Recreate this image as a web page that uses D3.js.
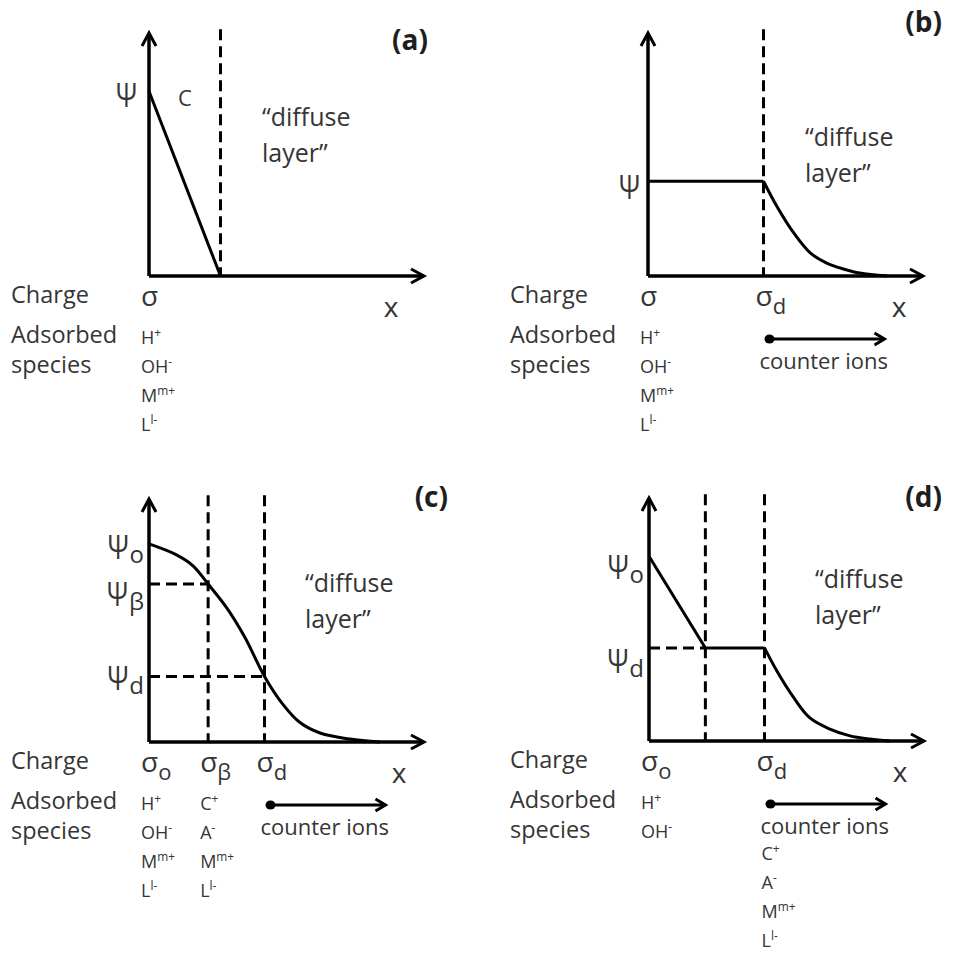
<!DOCTYPE html>
<html>
<head>
<meta charset="utf-8">
<script src="https://cdn.jsdelivr.net/npm/d3@7"></script>
<style>
  body { margin: 0; background: #fff; }
  text { font-family: "Open Sans", "Noto Sans", sans-serif; fill: #353535; }
</style>
</head>
<body>
<svg id="fig" width="954" height="954"></svg>
<script>
// Distance from the surface (x) and potential (psi) share an arbitrary 0–10 scale.
const panelNames = ["(a)", "(b)", "(c)", "(d)"];

// Positions of the charge planes along x
const planesA = [2.6];
const planesB = [4.2];
const planesC = [2.15, 4.2];
const planesD = [2.05, 4.2];

// Potential profiles: straight segments and smooth (diffuse) decays
const linearA = [[0, 7.6], [2.6, 0]];
const linearB = [[0, 3.9], [4.2, 3.9]];
const decayB  = [[4.2, 3.9], [4.7, 2.84], [5.3, 1.77], [5.9, 0.95], [6.5, 0.53], [7.1, 0.29], [7.7, 0.12], [8.7, 0]];
const smoothC = [[0, 8.15], [1.0, 7.7], [1.6, 7.25], [2.15, 6.5], [2.84, 5.5], [3.49, 4.3], [4.2, 2.7],
                 [4.87, 1.55], [5.49, 0.8], [6.22, 0.37], [7.31, 0.12], [8.4, 0]];
const linearD = [[0, 7.6], [2.05, 3.83], [4.2, 3.83]];
const decayD  = [[4.2, 3.83], [4.65, 2.88], [5.27, 1.77], [5.85, 0.95], [6.58, 0.49], [7.31, 0.21], [8.04, 0.08], [8.76, 0]];

// Potential labels on the vertical axis
const potentialA = [{ sub: "", v: 7.6 }];
const potentialB = [{ sub: "", v: 3.9 }];
const potentialC = [{ sub: "o", v: 8.15 }, { sub: "β", v: 6.5 }, { sub: "d", v: 2.7 }];
const potentialD = [{ sub: "o", v: 7.6 }, { sub: "d", v: 3.83 }];

// Dashed guides: [potential level, plane it runs to]
const guidesC = [[6.5, 2.15], [2.7, 4.2]];
const guidesD = [[3.83, 2.05]];

// Charge symbols under the x axis
const chargeA = [{ sub: "", at: 0 }];
const chargeB = [{ sub: "", at: 0 }, { sub: "d", at: 4.2 }];
const chargeC = [{ sub: "o", at: 0 }, { sub: "β", at: 2.15 }, { sub: "d", at: 4.2 }];
const chargeD = [{ sub: "o", at: 0 }, { sub: "d", at: 4.2 }];

// Adsorbed species: [symbol, superscript charge]
const surfaceIons = [["H", "+"], ["OH", "-"], ["M", "m+"], ["L", "l-"]];
const betaIons    = [["C", "+"], ["A", "-"], ["M", "m+"], ["L", "l-"]];
const innerIonsD  = [["H", "+"], ["OH", "-"]];

const rowLabels = ["Charge", "Adsorbed", "species"];

// Page placement of each panel (pixels); psiDy = baseline offset of each potential label
const layout = [
  { ox: 149, oy: 276, label: [428, 50],  psiRight: -12, psiDy: [16], xLab: 242, diffuse: [262, 126], rowX: 11 },
  { ox: 648, oy: 276, label: [942, 32],  psiRight: -8,  psiDy: [18], xLab: 251, diffuse: [805, 146], rowX: 510 },
  { ox: 149, oy: 742, label: [448, 507], psiRight: -5,  psiDy: [15, 22, 14], xLab: 250, diffuse: [305, 592], rowX: 11 },
  { ox: 649, oy: 741, label: [942, 507], psiRight: -5,  psiDy: [23, 25], xLab: 251, diffuse: [815, 588], rowX: 510 }
];

const panels = [
  { name: panelNames[0], planes: planesA, lines: [linearA], curves: [], potentials: potentialA, guides: [],
    charges: chargeA, columns: [{ at: 0, ions: surfaceIons }], counter: null, below: null, capLabel: true },
  { name: panelNames[1], planes: planesB, lines: [linearB], curves: [decayB], potentials: potentialB, guides: [],
    charges: chargeB, columns: [{ at: 0, ions: surfaceIons }], counter: 4.2, below: null },
  { name: panelNames[2], planes: planesC, lines: [], curves: [smoothC], potentials: potentialC, guides: guidesC,
    charges: chargeC, columns: [{ at: 0, ions: surfaceIons }, { at: 2.15, ions: betaIons }], counter: 4.2, below: null },
  { name: panelNames[3], planes: planesD, lines: [linearD], curves: [decayD], potentials: potentialD, guides: guidesD,
    charges: chargeD, columns: [{ at: 0, ions: innerIonsD }], counter: 4.2, below: betaIons }
];

const svg = d3.select("#fig");
const AXIS_W = 275, AXIS_H = 243;

function ionText(g, xPos, yPos, ion, size) {
  const t = g.append("text").attr("x", xPos).attr("y", yPos).attr("font-size", size);
  t.append("tspan").text(ion[0]);
  t.append("tspan").attr("font-size", size * 0.66).attr("dy", -size * 0.4).text(ion[1]);
}

function drawPanel(p) {
  const L = p.lay;
  const x = d3.scaleLinear().domain([0, 10]).range([L.ox, L.ox + AXIS_W]);
  const y = d3.scaleLinear().domain([0, 10]).range([L.oy, L.oy - AXIS_H]);
  const g = svg.append("g");

  // dashed charge planes
  g.selectAll("line.plane").data(p.planes).join("line")
    .attr("class", "plane")
    .attr("x1", d => x(d)).attr("x2", d => x(d))
    .attr("y1", y(10.15)).attr("y2", y(0))
    .attr("stroke", "#000").attr("stroke-width", 3).attr("stroke-dasharray", "11,6");

  // dashed potential guides
  g.selectAll("line.guide").data(p.guides).join("line")
    .attr("class", "guide")
    .attr("x1", x(0)).attr("x2", d => x(d[1]))
    .attr("y1", d => y(d[0])).attr("y2", d => y(d[0]))
    .attr("stroke", "#000").attr("stroke-width", 3).attr("stroke-dasharray", "11,6");

  // axes with arrowheads
  g.append("line").attr("x1", x(0)).attr("x2", x(10)).attr("y1", y(0)).attr("y2", y(0))
    .attr("stroke", "#000").attr("stroke-width", 3.5);
  g.append("line").attr("x1", x(0)).attr("x2", x(0)).attr("y1", y(0)).attr("y2", y(10))
    .attr("stroke", "#000").attr("stroke-width", 3.5);
  g.append("path")
    .attr("d", `M${x(10) - 13},${y(0) - 7}L${x(10)},${y(0)}L${x(10) - 13},${y(0) + 7}`)
    .attr("fill", "none").attr("stroke", "#000").attr("stroke-width", 3);
  g.append("path")
    .attr("d", `M${x(0) - 7},${y(10) + 13}L${x(0)},${y(10)}L${x(0) + 7},${y(10) + 13}`)
    .attr("fill", "none").attr("stroke", "#000").attr("stroke-width", 3);

  // potential profile
  const straight = d3.line().x(d => x(d[0])).y(d => y(d[1]));
  const smooth = d3.line().x(d => x(d[0])).y(d => y(d[1])).curve(d3.curveCatmullRom.alpha(0.5));
  p.lines.forEach(seg => g.append("path").attr("d", straight(seg))
    .attr("fill", "none").attr("stroke", "#000").attr("stroke-width", 3).attr("stroke-linejoin", "round"));
  p.curves.forEach(seg => g.append("path").attr("d", smooth(seg))
    .attr("fill", "none").attr("stroke", "#000").attr("stroke-width", 3));

  // potential labels
  p.potentials.forEach((d, i) => {
    const by = y(d.v) + L.psiDy[i];
    const right = L.ox + L.psiRight;
    let subW = 0;
    if (d.sub) {
      const s = g.append("text").attr("x", right).attr("y", by + 4)
        .attr("font-size", 24).attr("text-anchor", "end").text(d.sub);
      subW = s.node().getComputedTextLength() + 1;
    }
    g.append("text").attr("transform", `translate(${right - subW},${by}) scale(0.82,1)`)
      .attr("font-size", 32).attr("text-anchor", "end").text("Ψ");
  });

  if (p.capLabel) {
    g.append("text").attr("x", x(0) + 29).attr("y", y(7.6) + 15).attr("font-size", 22).text("C");
  }

  // "diffuse layer"
  g.append("text").attr("x", L.diffuse[0]).attr("y", L.diffuse[1]).attr("font-size", 25).text("\u201cdiffuse");
  g.append("text").attr("x", L.diffuse[0]).attr("y", L.diffuse[1] + 36).attr("font-size", 25).text("layer\u201d");

  // panel letter
  g.append("text").attr("x", L.label[0]).attr("y", L.label[1]).attr("text-anchor", "end")
    .attr("font-size", 28).attr("font-weight", 700).style("fill", "#1e1e1e").text(p.name);

  // row captions
  [27, 67, 97].forEach((dy, i) => g.append("text").attr("x", L.rowX).attr("y", L.oy + dy)
    .attr("font-size", 23.5).text(rowLabels[i]));

  // charge symbols
  p.charges.forEach(c => {
    const t = g.append("text").attr("x", x(c.at) - 8).attr("y", L.oy + 30).attr("font-size", 28);
    t.append("tspan").text("σ");
    if (c.sub) t.append("tspan").attr("font-size", 22).attr("dy", 8).text(c.sub);
  });

  // x label
  g.append("text").attr("x", L.ox + L.xLab).attr("y", L.oy + 41).attr("font-size", 28)
    .attr("text-anchor", "middle").text("x");

  // adsorbed species columns
  p.columns.forEach(col => {
    col.ions.forEach((ion, i) => ionText(g, x(col.at) - 8, L.oy + 68 + i * 29, ion, 18));
  });

  // counter-ion arrow
  if (p.counter !== null) {
    const cx = x(p.counter), ay = L.oy + 63;
    g.append("line").attr("x1", cx + 6).attr("x2", cx + 121).attr("y1", ay).attr("y2", ay)
      .attr("stroke", "#000").attr("stroke-width", 3);
    g.append("ellipse").attr("cx", cx + 6).attr("cy", ay).attr("rx", 5).attr("ry", 4.5).attr("fill", "#000");
    g.append("path").attr("d", `M${cx + 111},${ay - 6}L${cx + 121},${ay}L${cx + 111},${ay + 6}`)
      .attr("fill", "none").attr("stroke", "#000").attr("stroke-width", 3);
    g.append("text").attr("x", cx - 4).attr("y", L.oy + 93).attr("font-size", 22).text("counter ions");
    if (p.below) {
      p.below.forEach((ion, i) => ionText(g, cx - 3, L.oy + 119 + i * 29, ion, 18));
    }
  }
}

panels.forEach((p, i) => { p.lay = layout[i]; drawPanel(p); });
</script>
</body>
</html>
